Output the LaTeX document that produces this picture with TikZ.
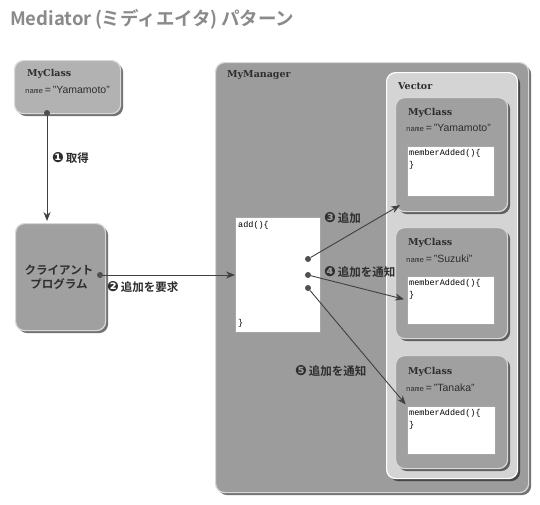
\documentclass[tikz,border=0pt]{standalone}
\usepackage{fontspec}
\setmainfont{Liberation Sans}
\setmonofont{Liberation Mono}
\newfontfamily\jpfont{Noto Sans CJK JP}[BoldFont={Noto Sans CJK JP Bold}]
\newfontfamily\slabfont{DejaVu Serif}
\newfontfamily\numfont{DejaVu Sans}
\usetikzlibrary{arrows.meta,shadows}

\definecolor{titlegray}{HTML}{8A8A8A}
\definecolor{txtgray}{HTML}{2E2E2E}
\definecolor{mgrgray}{HTML}{9C9C9C}
\definecolor{vecgray}{HTML}{D4D4D4}
\definecolor{clsgray}{HTML}{A0A0A0}
\definecolor{srcgray}{HTML}{B2B2B2}
\definecolor{rimgray}{HTML}{D8D8D8}
\definecolor{linegray}{HTML}{404040}
\definecolor{dotgray}{HTML}{505050}

\tikzset{
  box/.style={draw=rimgray, line width=1.2pt, rounded corners=9pt, anchor=north west,
    inner sep=0pt, drop shadow={shadow xshift=2.5pt, shadow yshift=-2.5pt, fill=black, opacity=.55}},
  code/.style={draw=gray!70, fill=white, anchor=north west, inner sep=0pt},
  cls/.style={anchor=west, inner sep=0pt, text=txtgray, font=\slabfont\bfseries\fontsize{9.5}{11}\selectfont},
  attr/.style={anchor=west, inner sep=0pt, text=txtgray, font=\fontsize{10.5}{12}\selectfont},
  src/.style={anchor=west, inner sep=0pt, text=black, font=\ttfamily\fontsize{8.5}{10}\selectfont},
  lbl/.style={anchor=west, inner sep=0pt, text=txtgray, font=\jpfont\bfseries\fontsize{11.5}{13}\selectfont},
  dot/.style={circle, fill=dotgray, inner sep=0pt, minimum size=6pt},
  link/.style={draw=linegray, line width=0.9pt, -{Stealth[length=9pt, width=7pt]}},
}
\newcommand{\attrname}{{\ttfamily\fontsize{7.5}{8}\selectfont name}\,=\,}
\newcommand{\stepno}[1]{{\numfont\fontsize{14}{14}\selectfont #1}\,}

\begin{document}
\begin{tikzpicture}[x=1pt, y=-1pt]
    \useasboundingbox (0,0) rectangle (540,504);

    % Title
    \node[anchor=west, inner sep=0pt, text=titlegray, font=\jpfont\bfseries\fontsize{18.5}{21}\selectfont]
        (title) at (10,19) {Mediator\,(ミディエイタ)\,パターン};

    % MyClass taken by the client
    \node[box, fill=srcgray, minimum width=106pt, minimum height=53pt] (src) at (14,60) {};
    \node[cls] (srcname) at (27,74) {MyClass};
    \node[attr] (srcattr) at (25,90) {\attrname"Yamamoto"};
    \node[dot] (d0) at (47,113) {};

    % Client program
    \node[box, fill=clsgray, minimum width=90pt, minimum height=107pt] (client) at (15,223) {};
    \node[align=center, inner sep=0pt, text=txtgray, font=\jpfont\bfseries\fontsize{11.5}{14}\selectfont]
        (clienttext) at (59,277) {クライアント\\プログラム};
    \node[dot] (dC) at (100,275) {};

    % MyManager
    \node[box, fill=mgrgray, minimum width=313pt, minimum height=430pt] (mgr) at (215,62) {};
    \node[cls] (mgrname) at (227,75) {MyManager};
    \node[code, minimum width=85pt, minimum height=115pt] (addf) at (235,217) {};
    \node[src] (addopen) at (238,225) {add()\{};
    \node[src] (addclose) at (238,323) {\}};
    \node[dot] (d3) at (308,259) {};
    \node[dot] (d4) at (308,275) {};
    \node[dot] (d5) at (308,288) {};

    % Vector
    \node[box, fill=vecgray, draw=white, minimum width=131pt, minimum height=406pt] (vec) at (386,72) {};
    \node[cls] (vecname) at (398,86) {Vector};

    % Members in the Vector
    \node[box, fill=clsgray, minimum width=112pt, minimum height=114pt] (yama) at (395,97) {};
    \node[cls] (yamaname) at (408,113) {MyClass};
    \node[attr] (yamaattr) at (406,128) {\attrname"Yamamoto"};
    \node[code, minimum width=87pt, minimum height=50pt] (yamaf) at (407,146) {};
    \node[src] at (409,153) {memberAdded()\{};
    \node[src] at (409,165) {\}};

    \node[box, fill=clsgray, minimum width=112pt, minimum height=111pt] (suzu) at (395,227) {};
    \node[cls] (suzuname) at (408,243) {MyClass};
    \node[attr] (suzuattr) at (406,259) {\attrname"Suzuki"};
    \node[code, minimum width=87pt, minimum height=48pt] (suzuf) at (407,276) {};
    \node[src] at (409,283) {memberAdded()\{};
    \node[src] at (409,295) {\}};

    \node[box, fill=clsgray, minimum width=112pt, minimum height=113pt] (tana) at (395,355) {};
    \node[cls] (tananame) at (408,372) {MyClass};
    \node[attr] (tanaattr) at (406,388) {\attrname"Tanaka"};
    \node[code, minimum width=88pt, minimum height=48pt] (tanaf) at (407,406) {};
    \node[src] at (409,413) {memberAdded()\{};
    \node[src] at (409,425) {\}};

    % Connectors
    \draw[link, shorten >=2pt] (d0) -- (client.north -| d0);
    \node[lbl] (l1) at (52,158) {\stepno{❶}取得};

    \draw[link] (dC) -- (addf.west |- dC);
    \node[lbl] (l2) at (107,287) {\stepno{❷}追加を要求};

    \draw[link] (d3) -- ([shift={(5,-7)}]yama.south west);
    \node[lbl] (l3) at (324,218) {\stepno{❸}追加};

    \draw[link, shorten >=3pt] (d4) -- ([yshift=-24pt]suzuf.north west);
    \node[lbl] (l4) at (324,272) {\stepno{❹}追加を通知};

    \draw[link, shorten >=2pt] (d5) -- (tanaf.north west);
    \node[lbl] (l5) at (295,371) {\stepno{❺}追加を通知};
\end{tikzpicture}
\end{document}
